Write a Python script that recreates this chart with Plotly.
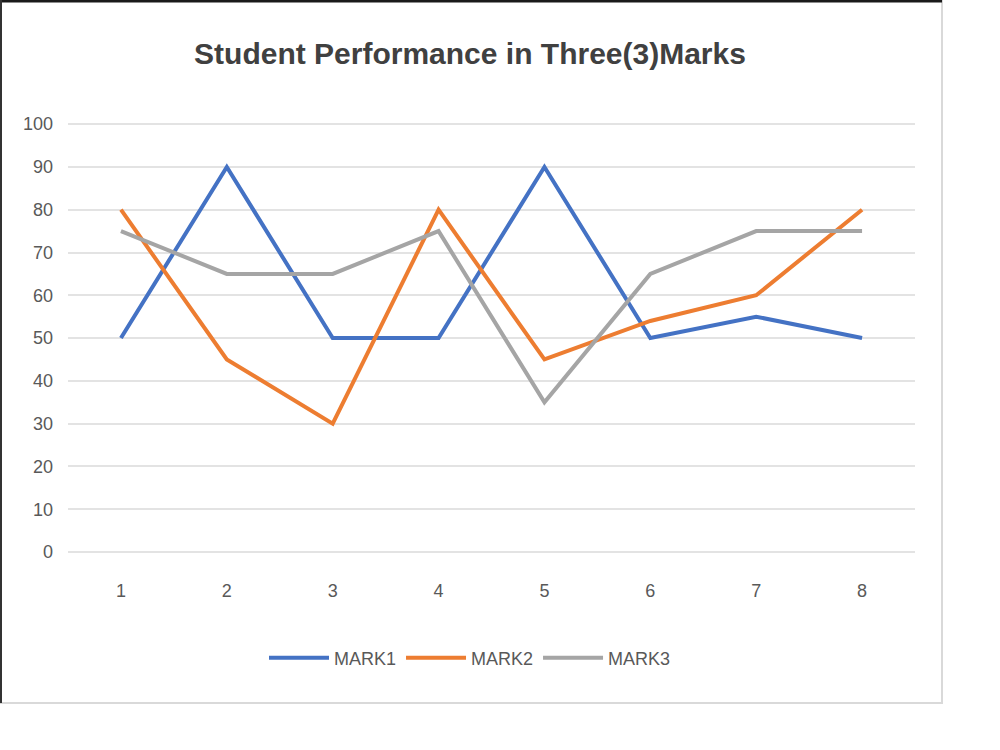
import plotly.graph_objects as go

students = [1, 2, 3, 4, 5, 6, 7, 8]
mark1 = [50, 90, 50, 50, 90, 50, 55, 50]
mark2 = [80, 45, 30, 80, 45, 54, 60, 80]
mark3 = [75, 65, 65, 75, 35, 65, 75, 75]
series_names = ["MARK1", "MARK2", "MARK3"]
colors = ["#4472C4", "#ED7D31", "#A5A5A5"]

L, R, T, B = 68, 915, 122, 552
W, H = 1000, 750

def px_x(p):
    return (p - L) / (R - L)

def px_y(p):
    return (B - p) / (B - T)

fig = go.Figure()
for name, vals, c in zip(series_names, [mark1, mark2, mark3], colors):
    fig.add_trace(go.Scatter(x=students, y=vals, mode="lines", name=name,
                             line=dict(color=c, width=4)))

fig.update_layout(
    width=W, height=H,
    margin=dict(l=L, r=W - R, t=T, b=H - B, pad=0),
    paper_bgcolor="white", plot_bgcolor="white",
    title=dict(text="Student Performance in Three(3)Marks",
               x=px_x(470), xref="paper", xanchor="center",
               y=1 - 53 / H, yref="container", yanchor="middle",
               font=dict(family="Liberation Sans, Arial, sans-serif",
                         size=30, color="#404040", weight="bold")),
    font=dict(family="Liberation Sans, Arial, sans-serif", color="#595959"),
    xaxis=dict(range=[0.5, 8.5], tickmode="array", tickvals=students,
               ticktext=[str(s) for s in students], showgrid=False, zeroline=False,
               showline=False, ticks="", tickfont=dict(size=18, color="#595959"),
               ticklabelstandoff=26),
    yaxis=dict(range=[0, 100.5], tick0=0, dtick=10, showgrid=True,
               gridcolor="#E3E3E3", gridwidth=1.5, zeroline=True,
               zerolinecolor="#E3E3E3", zerolinewidth=1.5, showline=False,
               ticks="", tickfont=dict(size=18, color="#595959"),
               ticklabelstandoff=14),
    legend=dict(orientation="h", x=px_x(470), xanchor="center",
                y=px_y(658), yanchor="middle",
                font=dict(size=18, color="#595959"),
                itemwidth=60, tracegroupgap=0),
    showlegend=True,
)

# chart frame
fig.add_shape(type="rect", xref="paper", yref="paper",
              x0=px_x(1), x1=px_x(942), y0=px_y(703), y1=px_y(1),
              line=dict(color="#D9D9D9", width=2), layer="below")
fig.add_shape(type="line", xref="paper", yref="paper",
              x0=px_x(0), x1=px_x(942), y0=px_y(1), y1=px_y(1),
              line=dict(color="#1a1a1a", width=3))
fig.add_shape(type="line", xref="paper", yref="paper",
              x0=px_x(1), x1=px_x(1), y0=px_y(0), y1=px_y(703),
              line=dict(color="#333333", width=2))

fig.write_html("out.html")
